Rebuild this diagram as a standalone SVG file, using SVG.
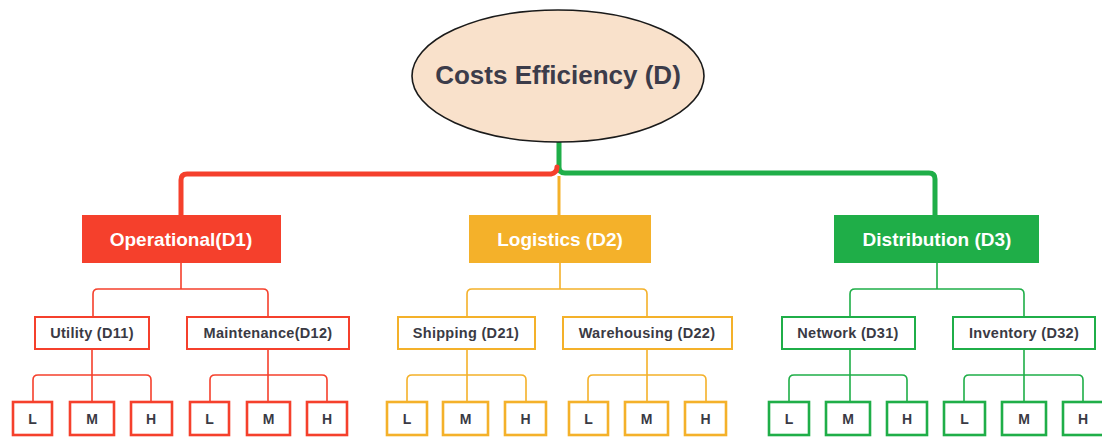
<svg xmlns="http://www.w3.org/2000/svg" width="1102" height="439" viewBox="0 0 1102 439">
<style>
text{font-family:"Liberation Sans",Arial,sans-serif;font-weight:bold;text-anchor:middle}
.t1{font-size:19px;fill:#fff}
.t2{font-size:14.5px;fill:#3a3a44;letter-spacing:0.3px}
.t3{font-size:14px;fill:#3a3a44}
.r{stroke:#f5402c}.y{stroke:#f4b12a}.g{stroke:#1fae48}
.c{fill:none;stroke-width:1.6}
.b2{fill:#fff;stroke-width:2}
.b3{fill:#fff;stroke-width:2.6}
.main{fill:none;stroke-width:5;stroke-linecap:round}
</style>
<rect width="1102" height="439" fill="#fff"/>
<g id="connectors">
<path class="main g" d="M559,142 V167 Q559,173 565,173 H929 Q935,173 935,179 V215"/>
<path class="main r" d="M557,167 Q557,173 551,174 H187 Q181,174 181,180 V215"/>
<path fill="none" stroke="#f4b12a" stroke-width="3" d="M559,176 V215"/>
<path class="c r" d="M181,263 V289 M93,317 V294 Q93,289 98,289 H263 Q268,289 268,294 V317"/>
<path class="c r" d="M92,349 V402 M33,402 V380 Q33,375 38,375 H146 Q151,375 151,380 V402"/>
<path class="c r" d="M268,349 V402 M210,402 V380 Q210,375 215,375 H322 Q327,375 327,380 V402"/>
<path class="c y" d="M560,263 V289 M467,317 V294 Q467,289 472,289 H642 Q647,289 647,294 V317"/>
<path class="c y" d="M467,349 V402 M407,402 V380 Q407,375 412,375 H521 Q526,375 526,380 V402"/>
<path class="c y" d="M647,349 V402 M588,402 V380 Q588,375 593,375 H701 Q706,375 706,380 V402"/>
<path class="c g" d="M937,263 V289 M850,317 V294 Q850,289 855,289 H1019 Q1024,289 1024,294 V317"/>
<path class="c g" d="M850,349 V402 M789,402 V380 Q789,375 794,375 H902 Q907,375 907,380 V402"/>
<path class="c g" d="M1024,349 V402 M964,402 V380 Q964,375 969,375 H1078 Q1083,375 1083,380 V402"/>
</g>
<g id="root">
<ellipse cx="558" cy="76" rx="146" ry="66" fill="#f9e1cb" stroke="#1a1a1a" stroke-width="1.6"/>
<text x="558" y="84" style="font-size:26px;fill:#3c3c4a">Costs Efficiency (D)</text>
</g>
<g id="D1"><rect x="82" y="215" width="199" height="48" fill="#f5402c"/><text class="t1" x="181" y="246">Operational(D1)</text></g>
<g id="D2"><rect x="469" y="215" width="182" height="48" fill="#f4b12a"/><text class="t1" x="560" y="246">Logistics (D2)</text></g>
<g id="D3"><rect x="834" y="215" width="205" height="48" fill="#1fae48"/><text class="t1" x="937" y="246">Distribution (D3)</text></g>
<g id="D11"><rect class="b2 r" x="35" y="317" width="114" height="32"/><text class="t2" x="92" y="338">Utility (D11)</text></g>
<g id="D12"><rect class="b2 r" x="187" y="317" width="162" height="32"/><text class="t2" x="268" y="338">Maintenance(D12)</text></g>
<g id="D21"><rect class="b2 y" x="398" y="317" width="137" height="32"/><text class="t2" x="466" y="338">Shipping (D21)</text></g>
<g id="D22"><rect class="b2 y" x="563" y="317" width="169" height="32"/><text class="t2" x="647" y="338">Warehousing (D22)</text></g>
<g id="D31"><rect class="b2 g" x="782" y="317" width="133" height="32"/><text class="t2" x="848" y="338">Network (D31)</text></g>
<g id="D32"><rect class="b2 g" x="953" y="317" width="142" height="32"/><text class="t2" x="1024" y="338">Inventory (D32)</text></g>
<g id="D11L"><rect class="b3 r" x="13" y="402" width="39" height="33"/><text class="t3" x="32.5" y="424">L</text></g>
<g id="D11M"><rect class="b3 r" x="70" y="402" width="44" height="33"/><text class="t3" x="92" y="424">M</text></g>
<g id="D11H"><rect class="b3 r" x="131" y="402" width="41" height="33"/><text class="t3" x="151" y="424">H</text></g>
<g id="D12L"><rect class="b3 r" x="190" y="402" width="39" height="33"/><text class="t3" x="209.5" y="424">L</text></g>
<g id="D12M"><rect class="b3 r" x="247" y="402" width="43" height="33"/><text class="t3" x="268.5" y="424">M</text></g>
<g id="D12H"><rect class="b3 r" x="307" y="402" width="40" height="33"/><text class="t3" x="327" y="424">H</text></g>
<g id="D21L"><rect class="b3 y" x="387" y="402" width="40" height="33"/><text class="t3" x="407" y="424">L</text></g>
<g id="D21M"><rect class="b3 y" x="443" y="402" width="45" height="33"/><text class="t3" x="465.5" y="424">M</text></g>
<g id="D21H"><rect class="b3 y" x="505" y="402" width="41" height="33"/><text class="t3" x="525.5" y="424">H</text></g>
<g id="D22L"><rect class="b3 y" x="569" y="402" width="39" height="33"/><text class="t3" x="588.5" y="424">L</text></g>
<g id="D22M"><rect class="b3 y" x="625" y="402" width="43" height="33"/><text class="t3" x="646.5" y="424">M</text></g>
<g id="D22H"><rect class="b3 y" x="685" y="402" width="41" height="33"/><text class="t3" x="705.5" y="424">H</text></g>
<g id="D31L"><rect class="b3 g" x="769" y="402" width="40" height="33"/><text class="t3" x="789" y="424">L</text></g>
<g id="D31M"><rect class="b3 g" x="826" y="402" width="44" height="33"/><text class="t3" x="848" y="424">M</text></g>
<g id="D31H"><rect class="b3 g" x="887" y="402" width="40" height="33"/><text class="t3" x="907" y="424">H</text></g>
<g id="D32L"><rect class="b3 g" x="944" y="402" width="41" height="33"/><text class="t3" x="964.5" y="424">L</text></g>
<g id="D32M"><rect class="b3 g" x="1002" y="402" width="44" height="33"/><text class="t3" x="1024" y="424">M</text></g>
<g id="D32H"><rect class="b3 g" x="1063" y="402" width="41" height="33"/><text class="t3" x="1083" y="424">H</text></g>
</svg>
